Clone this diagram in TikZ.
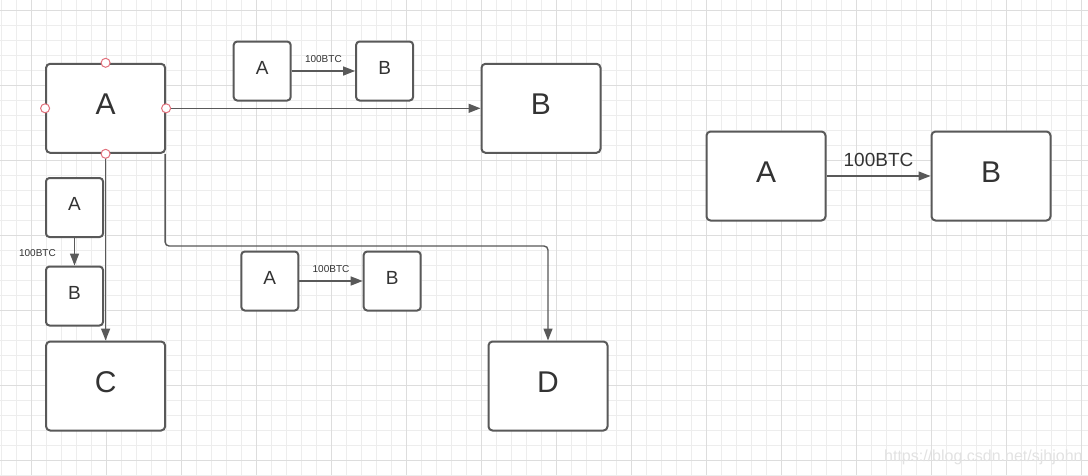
\documentclass[tikz,border=0pt]{standalone}
\usepackage{fontspec}
\setmainfont{Liberation Sans}
\usetikzlibrary{arrows.meta}
\definecolor{edgec}{HTML}{595959}
\definecolor{txt}{HTML}{333333}
\definecolor{gminor}{HTML}{EDEDED}
\definecolor{gmajor}{HTML}{DDDDDD}
\definecolor{handlec}{HTML}{E2707C}
\definecolor{wm}{HTML}{E2E2E2}
\begin{document}
\begin{tikzpicture}[x=1pt,y=-1pt,
  bigbox/.style={draw=edgec, line width=2pt, fill=white, rounded corners=4pt,
    minimum width=119pt, minimum height=89pt, inner sep=0pt, text=txt,
    font=\fontsize{30}{36}\selectfont, text depth=8pt},
  smallbox/.style={draw=edgec, line width=2pt, fill=white, rounded corners=3.5pt,
    minimum width=57pt, minimum height=59pt, inner sep=0pt, text=txt,
    font=\fontsize{19}{23}\selectfont, text depth=7pt},
  conn/.style={draw=edgec, line width=1.4pt, -{Triangle[length=12pt,width=9pt]}},
  lbl/.style={text=txt, font=\fontsize{10}{12}\selectfont, inner sep=0pt},
  biglbl/.style={text=txt, font=\fontsize{19}{23}\selectfont, inner sep=0pt},
  handlept/.style={circle, draw=handlec, fill=white, line width=1pt,
    minimum size=9pt, inner sep=0pt}]
\useasboundingbox (0,0) rectangle (1088,475);
\fill[white] (0,0) rectangle (1088,475);
% grid
\foreach \k in {0,...,72} {
  \draw[gminor, line width=1pt] (1.3+15*\k,0) -- (1.3+15*\k,475);
}
\foreach \k in {0,...,31} {
  \draw[gminor, line width=1pt] (0,10.3+15*\k) -- (1088,10.3+15*\k);
}
\foreach \k in {0,...,14} {
  \draw[gmajor, line width=1pt] (31.3+75*\k,0) -- (31.3+75*\k,475);
}
\foreach \k in {0,...,6} {
  \draw[gmajor, line width=1pt] (0,10.3+75*\k) -- (1088,10.3+75*\k);
}
% big boxes
\node[bigbox] (A) at (105.6,108.3) {A};
\node[bigbox] (B) at (541,108.3) {B};
\node[bigbox] (C) at (105.6,386) {C};
\node[bigbox] (D) at (548,386) {D};
\node[bigbox] (RA) at (766,176) {A};
\node[bigbox] (RB) at (991,176) {B};
% small boxes
\node[smallbox] (TA) at (262.2,71) {A};
\node[smallbox] (TB) at (384.6,71) {B};
\node[smallbox] (LA) at (74.5,207.5) {A};
\node[smallbox] (LB) at (74.5,296) {B};
\node[smallbox] (MA) at (269.8,281) {A};
\node[smallbox] (MB) at (392.2,281) {B};
% connectors
\draw[conn] (A.east) -- (B.west);
\draw[conn] (A.south) -- (C.north);
\coordinate (Astart) at ([xshift=-1pt]A.south east);
\coordinate (bend) at (350,246);
\draw[conn, rounded corners=4pt] (Astart) |- (bend) -| (D.north);
\draw[conn] (TA.east) -- node[lbl, yshift=12pt] {100BTC} (TB.west);
\draw[conn] (MA.east) -- node[lbl, yshift=12pt] {100BTC} (MB.west);
\draw[conn] (LA.south) -- node[lbl, anchor=east, xshift=-18pt, yshift=-1.5pt] {100BTC} (LB.north);
\draw[conn] (RA.east) -- node[biglbl, yshift=16pt] {100BTC} (RB.west);
% connection handles
\node[handlept] (hN) at (A.north) {};
\node[handlept] (hS) at (A.south) {};
\node[handlept] (hE) at (A.east) {};
\node[handlept] (hW) at (A.west) {};
% watermark
\node[anchor=west, inner sep=0pt, text=wm, font=\fontsize{16}{19}\selectfont] (wmk) at (884,457) {https://blog.csdn.net/sjhjohn};
\end{tikzpicture}
\end{document}
